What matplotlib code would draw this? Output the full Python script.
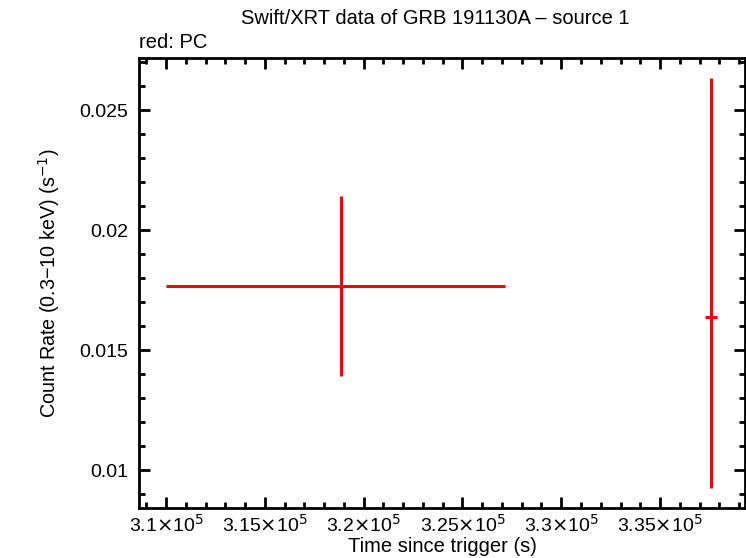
import matplotlib
matplotlib.use("Agg")
import matplotlib.pyplot as plt
from matplotlib.ticker import MultipleLocator, FuncFormatter

plt.rcParams['font.family'] = ['Liberation Sans', 'DejaVu Sans']

# data (PC mode)
time = [318856, 337581]
time_err_lo = [8856, 300]
time_err_hi = [8300, 300]
rate = [0.017667, 0.016375]
rate_err_lo = [0.00375, 0.007125]
rate_err_hi = [0.00375, 0.009958]

fig = plt.figure(figsize=(7.46, 5.58), dpi=100)
ax = fig.add_axes([139/746, 1-508/558, (745-139)/746, (508-58)/558])

ax.errorbar(time, rate, xerr=[time_err_lo, time_err_hi], yerr=[rate_err_lo, rate_err_hi],
            fmt='none', ecolor='#ff0000', elinewidth=2.2, capsize=0)

ax.set_xlim(308634, 339300)
ax.set_ylim(0.008417, 0.027167)

ax.xaxis.set_major_locator(MultipleLocator(5000))
ax.xaxis.set_minor_locator(MultipleLocator(1000))
ax.yaxis.set_major_locator(MultipleLocator(0.005))
ax.yaxis.set_minor_locator(MultipleLocator(0.001))

def xfmt(v, pos):
    s = ('%g' % (v / 1e5))
    return r'%s$\times$10$^{5}$' % s
ax.xaxis.set_major_formatter(FuncFormatter(xfmt))
ax.yaxis.set_major_formatter(FuncFormatter(lambda v, p: '%g' % v))

ax.tick_params(which='both', direction='in', top=True, right=True, width=2, labelsize=14)
ax.tick_params(which='major', length=8)
ax.tick_params(which='minor', length=4)
ax.tick_params(axis='y', which='major', pad=8)
ax.tick_params(axis='x', which='major', pad=4)
for s in ax.spines.values():
    s.set_linewidth(2)

ax.set_xlabel('Time since trigger (s)', fontsize=14.5, labelpad=1)
ax.set_ylabel('Count Rate (0.3\u221210 keV) (s$^{-1}$)', fontsize=14.2, labelpad=12)
fig.text(435/746, 1-19/558, 'Swift/XRT data of GRB 191130A \u2013 source 1', ha='center', va='center', fontsize=14.5)
fig.text(139/746, 1-42/558, 'red: PC', ha='left', va='center', fontsize=14.5)

fig.savefig('out.png', dpi=100)
